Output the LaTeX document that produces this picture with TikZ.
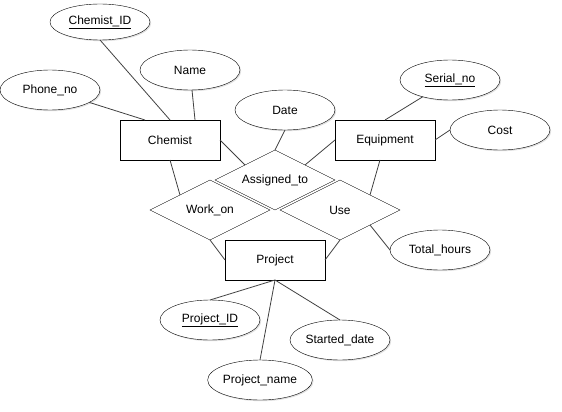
\documentclass[tikz,border=0pt]{standalone}
\usepackage{fontspec}
\setmainfont{Liberation Sans}
\usetikzlibrary{shapes.geometric,calc,shadows}
\begin{document}
\begin{tikzpicture}[x=1pt,y=-1pt,
  every node/.style={font=\fontsize{12}{14}\selectfont, inner sep=0pt, outer sep=0pt},
  attr/.style={ellipse, draw=black, fill=white, minimum width=100pt, minimum height=40pt,
    drop shadow={shadow xshift=1.2pt, shadow yshift=-1.2pt, opacity=0.25}},
  entity/.style={rectangle, draw=black, fill=white, minimum width=100pt, minimum height=40pt,
    drop shadow={shadow xshift=1.2pt, shadow yshift=-1.2pt, opacity=0.2}},
  rel/.style={diamond, draw=black, fill=white, aspect=2, minimum width=120pt, minimum height=60pt},
  link/.style={draw=black!75, line width=0.8pt}
]
\useasboundingbox (0,0) rectangle (562,412);

% links first
\coordinate (c0) at (0,0);

% Entities
\node[entity] (chem) at (170,140) {Chemist};
\node[entity] (equip) at (385,140) {Equipment};
\node[entity] (proj) at (275,260) {Project};

% Relationships
\node[rel] (assign) at (275,180) {Assigned\_to};
\node[rel] (work) at (210,210) {Work\_on};
\node[rel] (use) at (340,210) {Use};

% Attributes
\node[attr, minimum height=36pt] (cid) at (100,22) {\underline{Chemist\_ID}};
\node[attr] (name) at (190,70) {Name};
\node[attr] (phone) at (50,90) {Phone\_no};
\node[attr] (date) at (285,110) {Date};
\node[attr] (serial) at (450,80) {\underline{Serial\_no}};
\node[attr] (cost) at (500,130) {Cost};
\node[attr] (total) at (440,250) {Total\_hours};
\node[attr] (pid) at (210,320) {\underline{Project\_ID}};
\node[attr] (sdate) at (340,340) {Started\_date};
\node[attr] (pname) at (260,380) {Project\_name};

% Connectors
\begin{scope}[on background layer/.style={}]
\draw[link] (cid.south) -- (chem.north);
\draw[link] (name) -- ($(chem.north west)!0.75!(chem.north east)$);
\draw[link] (phone) -- ($(chem.north west)!0.25!(chem.north east)$);
\draw[link] (chem.east) -- ($(assign.north)!0.5!(assign.west)$);
\draw[link] (date.south) -- (assign.north);
\draw[link] (equip.west) -- ($(assign.north)!0.5!(assign.east)$);
\draw[link] (serial) -- (equip.north);
\draw[link] (cost.west) -- (equip.east);
\draw[link] ($(equip.south west)!0.45!(equip.south east)$) -- ($(use.north)!0.5!(use.east)$);
\draw[link] ($(use.south)!0.5!(use.east)$) -- (total.west);
\draw[link] (chem.south) -- ($(work.north)!0.5!(work.west)$);
\draw[link] (work.south) -- (proj.west);
\draw[link] (use.south) -- (proj.east);
\draw[link] (proj.south) -- (pid.north);
\draw[link] (proj.south) -- (pname.north);
\draw[link] (proj.south) -- (sdate.north);
\end{scope}
\end{tikzpicture}
\end{document}
